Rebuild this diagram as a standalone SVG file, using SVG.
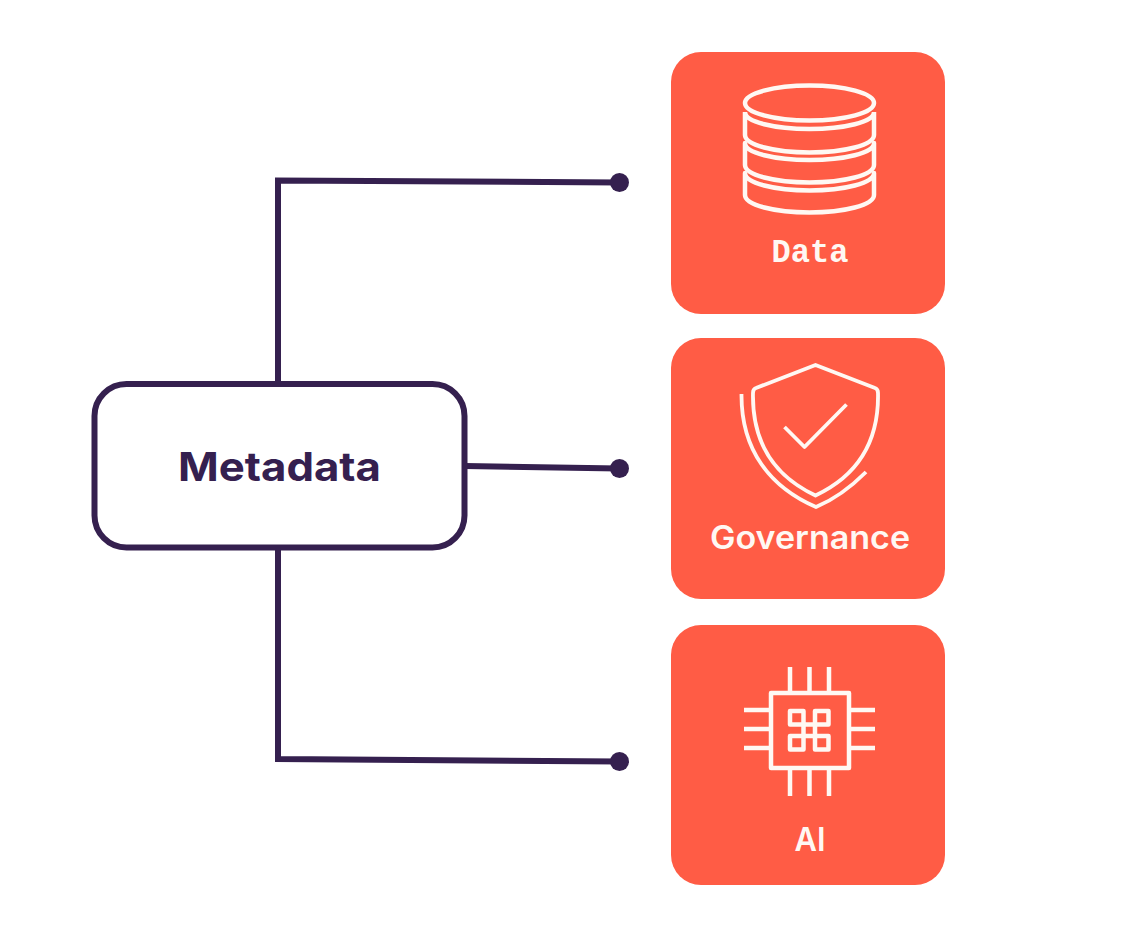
<svg xmlns="http://www.w3.org/2000/svg" width="1140" height="952" viewBox="0 0 1140 952">
<style>
.card{fill:#ff5c45}
.ico{fill:none;stroke:#fff8f3;stroke-width:4.500;stroke-linejoin:round;stroke-linecap:butt}
.thin{stroke-width:3.800}
.lab{font-family:"Inter","Liberation Sans",sans-serif;font-weight:600;fill:#fff8f3;text-anchor:middle}
.wire{fill:none;stroke:#35204f;stroke-width:6}
.dot{fill:#35204f}
</style>
<rect width="1140" height="952" fill="#fff"/>
<g id="connectors">
<path class="wire" d="M278 384V180.500L619 182.500"/>
<path class="wire" d="M465 466L619 468.500"/>
<path class="wire" d="M278 548V759L619 761.500"/>
<circle class="dot" cx="619.500" cy="182.500" r="9.500"/>
<circle class="dot" cx="619.500" cy="468.500" r="9.500"/>
<circle class="dot" cx="619.500" cy="761.500" r="9.500"/>
</g>
<g id="metadata">
<rect x="94.500" y="384" width="370" height="163.500" rx="32" fill="#fff" stroke="#35204f" stroke-width="6"/>
<text x="279.500" y="481" font-family="Inter,'Liberation Sans',sans-serif" font-weight="700" font-size="40" fill="#35204f" text-anchor="middle" textLength="203" lengthAdjust="spacingAndGlyphs">Metadata</text>
</g>
<g id="data">
<rect class="card" x="671" y="52" width="274" height="262" rx="30"/>
<ellipse class="ico" cx="809.500" cy="103" rx="64.500" ry="17.500"/>
<path class="ico" d="M745 112V135C745 145 775 152.500 809.500 152.500S874 145 874 135V112M745 112C745 122 775 129 809.500 129S874 122 874 112"/>
<path class="ico" d="M745 143V165C745 175 775 182.500 809.500 182.500S874 175 874 165V143C874 153 844 160 809.500 160S745 153 745 143Z"/>
<path class="ico" d="M745 173V195C745 205 775 212.500 809.500 212.500S874 205 874 195V173C874 183 844 190.500 809.500 190.500S745 183 745 173Z"/>
<text x="810" y="262" font-family="'Liberation Mono','DejaVu Sans Mono',monospace" font-weight="700" font-size="33" fill="#fff8f3" text-anchor="middle" textLength="77" lengthAdjust="spacingAndGlyphs">Data</text>
</g>
<g id="governance">
<rect class="card" x="671" y="338" width="274" height="261" rx="30"/>
<path class="ico thin" d="M815.500 365L756 388Q753 389 753 393C752 441 772 475 815.500 495.500C859 475 879 441 878 393Q878 389 875 388Z"/>
<path class="ico thin" d="M741.500 394C741 450 770 487 816 507C833 500 850 488 866 472"/>
<path class="ico thin" d="M784.500 427L804.500 447L846.500 404.500"/>
<text class="lab" x="810" y="549" font-size="32" textLength="200" lengthAdjust="spacingAndGlyphs">Governance</text>
</g>
<g id="ai">
<rect class="card" x="671" y="625" width="274" height="260" rx="30"/>
<rect class="ico" x="771" y="693" width="78" height="75"/>
<path class="ico" d="M790 667V693M809.500 667V693M829 667V693M790 768V796M809.500 768V796M829 768V796M744 710H771M744 729H771M744 748H771M849 710H875M849 729H875M849 748H875"/>
<rect class="ico" x="790" y="711" width="13.500" height="13.500"/>
<rect class="ico" x="815" y="711" width="13.500" height="13.500"/>
<rect class="ico" x="790" y="736" width="13.500" height="13.500"/>
<rect class="ico" x="815" y="736" width="13.500" height="13.500"/>
<path class="ico" d="M803.500 724.500H815M803.500 736H815M803.500 724.500V736M815 724.500V736"/>
<text class="lab" x="810" y="851" font-size="33" textLength="31" lengthAdjust="spacingAndGlyphs">AI</text>
</g>
</svg>
